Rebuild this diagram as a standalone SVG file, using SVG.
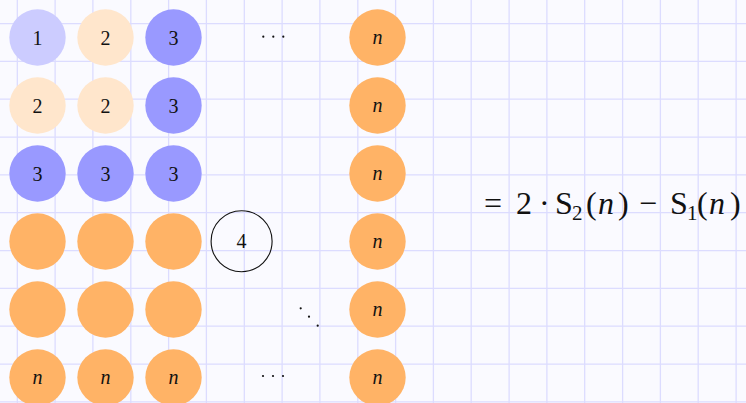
<svg xmlns="http://www.w3.org/2000/svg" width="746" height="403" viewBox="0 0 746 403">
<defs>
<style>
.grid{stroke:#dcdcff;stroke-width:1.3;fill:none}
.lbl{font-family:"Liberation Serif","DejaVu Serif",serif;font-size:20px;text-anchor:middle;fill:#111}
.it{font-style:italic}
.c1{fill:#ccccff}
.c2{fill:#ffe6cc}
.c3{fill:#9999ff}
.co{fill:#ffb366}
.dot{fill:#111}
.eq{font-family:"Liberation Serif","DejaVu Serif",serif;font-size:32px;fill:#111}
.sub{font-size:21px}
</style>
</defs>
<rect width="746" height="403" fill="#fafaff"/>
<path class="grid" d="M17.3 0V403M55.1 0V403M92.9 0V403M130.8 0V403M168.6 0V403M206.4 0V403M244.3 0V403M282.1 0V403M319.9 0V403M357.8 0V403M395.6 0V403M433.4 0V403M471.2 0V403M509.1 0V403M546.9 0V403M584.7 0V403M622.6 0V403M660.4 0V403M698.2 0V403M736.1 0V403M0 23.6H746M0 61.4H746M0 99.2H746M0 137.1H746M0 174.9H746M0 212.7H746M0 250.6H746M0 288.4H746M0 326.2H746M0 364.1H746M0 401.9H746"/>
<g id="r1c1"><circle class="c1" cx="37.5" cy="37.5" r="28.2"/><text class="lbl" x="37.5" y="44.5">1</text></g>
<g id="r1c2"><circle class="c2" cx="105.5" cy="37.5" r="28.2"/><text class="lbl" x="105.5" y="44.5">2</text></g>
<g id="r1c3"><circle class="c3" cx="173.5" cy="37.5" r="28.2"/><text class="lbl" x="173.5" y="44.5">3</text></g>
<g id="r1dots"><circle class="dot" cx="263.3" cy="36.7" r="1.1"/><circle class="dot" cx="273.3" cy="36.7" r="1.1"/><circle class="dot" cx="283.3" cy="36.7" r="1.1"/></g>
<g id="r1c6"><circle class="co" cx="377.5" cy="37.5" r="28.2"/><text class="lbl it" x="377.5" y="43.5">n</text></g>
<g id="r2c1"><circle class="c2" cx="37.5" cy="105.5" r="28.2"/><text class="lbl" x="37.5" y="112.5">2</text></g>
<g id="r2c2"><circle class="c2" cx="105.5" cy="105.5" r="28.2"/><text class="lbl" x="105.5" y="112.5">2</text></g>
<g id="r2c3"><circle class="c3" cx="173.5" cy="105.5" r="28.2"/><text class="lbl" x="173.5" y="112.5">3</text></g>
<g id="r2c6"><circle class="co" cx="377.5" cy="105.5" r="28.2"/><text class="lbl it" x="377.5" y="111.5">n</text></g>
<g id="r3c1"><circle class="c3" cx="37.5" cy="173.5" r="28.2"/><text class="lbl" x="37.5" y="180.5">3</text></g>
<g id="r3c2"><circle class="c3" cx="105.5" cy="173.5" r="28.2"/><text class="lbl" x="105.5" y="180.5">3</text></g>
<g id="r3c3"><circle class="c3" cx="173.5" cy="173.5" r="28.2"/><text class="lbl" x="173.5" y="180.5">3</text></g>
<g id="r3c6"><circle class="co" cx="377.5" cy="173.5" r="28.2"/><text class="lbl it" x="377.5" y="179.5">n</text></g>
<g id="r4c1"><circle class="co" cx="37.5" cy="241.5" r="28.2"/></g>
<g id="r4c2"><circle class="co" cx="105.5" cy="241.5" r="28.2"/></g>
<g id="r4c3"><circle class="co" cx="173.5" cy="241.5" r="28.2"/></g>
<g id="r4c4"><circle cx="241.6" cy="241.2" r="30.5" fill="none" stroke="#111" stroke-width="1.1"/><text class="lbl" x="241.6" y="248">4</text></g>
<g id="r4c6"><circle class="co" cx="377.5" cy="241.5" r="28.2"/><text class="lbl it" x="377.5" y="247.5">n</text></g>
<g id="r5c1"><circle class="co" cx="37.5" cy="309.5" r="28.2"/></g>
<g id="r5c2"><circle class="co" cx="105.5" cy="309.5" r="28.2"/></g>
<g id="r5c3"><circle class="co" cx="173.5" cy="309.5" r="28.2"/></g>
<g id="r5ddots"><circle class="dot" cx="300.7" cy="308.3" r="1.1"/><circle class="dot" cx="309" cy="316.7" r="1.1"/><circle class="dot" cx="317.7" cy="325.7" r="1.1"/></g>
<g id="r5c6"><circle class="co" cx="377.5" cy="309.5" r="28.2"/><text class="lbl it" x="377.5" y="315.5">n</text></g>
<g id="r6c1"><circle class="co" cx="37.5" cy="377.5" r="28.2"/><text class="lbl it" x="37.5" y="383.5">n</text></g>
<g id="r6c2"><circle class="co" cx="105.5" cy="377.5" r="28.2"/><text class="lbl it" x="105.5" y="383.5">n</text></g>
<g id="r6c3"><circle class="co" cx="173.5" cy="377.5" r="28.2"/><text class="lbl it" x="173.5" y="383.5">n</text></g>
<g id="r6dots"><circle class="dot" cx="263" cy="376" r="1.1"/><circle class="dot" cx="273" cy="376" r="1.1"/><circle class="dot" cx="283" cy="376" r="1.1"/></g>
<g id="r6c6"><circle class="co" cx="377.5" cy="377.5" r="28.2"/><text class="lbl it" x="377.5" y="383.5">n</text></g>
<g id="formula" class="eq">
<text x="484" y="214">=</text>
<text x="516" y="214">2</text>
<text x="539" y="214">·</text>
<text x="555" y="214">S</text>
<text class="sub" x="572" y="220">2</text>
<text x="586" y="214">(</text>
<text x="598" y="214" font-style="italic">n</text>
<text x="618" y="214">)</text>
<text x="639" y="214">−</text>
<text x="670" y="214">S</text>
<text class="sub" x="687" y="220">1</text>
<text x="697" y="214">(</text>
<text x="709" y="214" font-style="italic">n</text>
<text x="730" y="214">)</text>
</g>
</svg>
